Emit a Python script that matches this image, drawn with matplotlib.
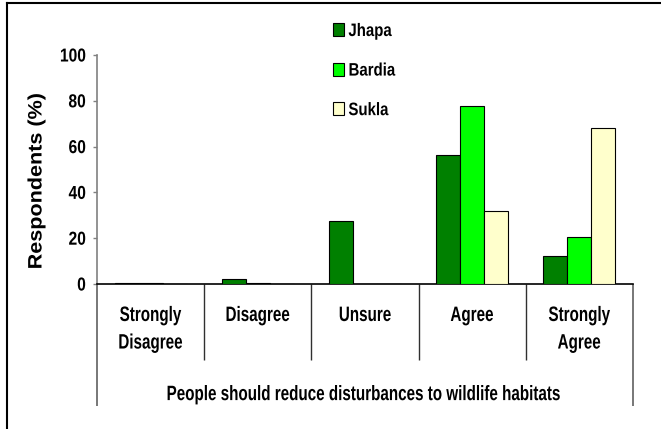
import numpy as np
import matplotlib.pyplot as plt
from matplotlib.lines import Line2D
from matplotlib.patheffects import AbstractPathEffect
from matplotlib.transforms import Affine2D

# Data
categories = ["Strongly\nDisagree", "Disagree", "Unsure", "Agree", "Strongly\nAgree"]
jhapa = [0.4, 2.2, 27.6, 56.3, 12.2]
bardia = [0.4, 0.4, 0.0, 77.9, 20.4]
sukla = [0.0, 0.0, 0.0, 31.9, 68.0]
series_names = ["Jhapa", "Bardia", "Sukla"]
colors = ["#008000", "#00FF00", "#FFFFCC"]
yticks = [0, 20, 40, 60, 80, 100]
statement = "People should reduce disturbances to wildlife habitats"


class Squeeze(AbstractPathEffect):
    # squash text like the narrow font in the original
    def __init__(self, sx=1.0, sy=1.0, anchor="center"):
        super().__init__()
        self.sx, self.sy, self.anchor = sx, sy, anchor

    def draw_path(self, renderer, gc, tpath, affine, rgbFace=None):
        ext = tpath.get_extents(affine)
        if self.anchor == "left":
            x0 = ext.x0
        elif self.anchor == "right":
            x0 = ext.x1
        else:
            x0 = (ext.x0 + ext.x1) / 2
        y0 = (ext.y0 + ext.y1) / 2
        t = affine + Affine2D().translate(-x0, -y0).scale(self.sx, self.sy).translate(x0, y0)
        renderer.draw_path(gc, tpath, t, rgbFace)


font = ["Liberation Sans", "DejaVu Sans"]

fig = plt.figure(figsize=(6.61, 4.29), dpi=100)
ax = fig.add_axes([97 / 661, 1 - 284 / 429, 536 / 661, 229 / 429])

x = np.arange(len(categories))
w = 0.224
for i, (vals, name) in enumerate(zip([jhapa, bardia, sukla], series_names)):
    ax.bar(x + (i - 1) * w, vals, width=w, color=colors[i], edgecolor="black",
           linewidth=0.8, label=name, zorder=3)

ax.set_xlim(-0.5, len(categories) - 0.5)
ax.set_ylim(0, 100)
ax.set_yticks(yticks)
ax.set_yticklabels([str(t) for t in yticks], family=font, fontweight="bold",
                   fontsize=13.5)
for lbl in ax.get_yticklabels():
    lbl.set_path_effects([Squeeze(0.83, 1.0, "right")])
ax.tick_params(axis="y", length=3, width=1, pad=5, color="#808080")
ax.set_xticks([])

for s in ["top", "right"]:
    ax.spines[s].set_visible(False)
ax.spines["left"].set_color("#808080")
ax.spines["left"].set_linewidth(1.2)
ax.spines["bottom"].set_color("black")
ax.spines["bottom"].set_linewidth(1.2)

# table-like category area below the axis
trans = ax.get_xaxis_transform()
ax.vlines(x[:-1] + 0.5, -0.332, 0, transform=trans, colors="#303030",
          linewidth=1, clip_on=False)
ax.vlines([-0.5, len(categories) - 0.5], -0.533, 0, transform=trans,
          colors="#606060", linewidth=1.2, clip_on=False)
for xi, cat in zip(x, categories):
    ax.text(xi, -0.096, cat, transform=trans, ha="center", va="top",
            family=font, fontweight="bold", fontsize=15, linespacing=1.57,
            path_effects=[Squeeze(0.73)])
ax.text(0.5, -0.507, statement, transform=ax.transAxes, ha="center",
        va="baseline", family=font, fontweight="bold", fontsize=15,
        path_effects=[Squeeze(0.73)])

fig.text(37 / 661, 1 - 181 / 429, "Respondents (%)", rotation=90, ha="center",
         va="center", family=font, fontweight="bold", fontsize=14,
         path_effects=[Squeeze(1.0, 1.11)])

leg = ax.legend(loc="upper left", bbox_to_anchor=(333 / 661, 1 - 23 / 429),
                bbox_transform=fig.transFigure, frameon=False,
                prop={"family": font, "weight": "bold", "size": 13},
                handlelength=0.6, handleheight=0.75, handletextpad=0.25,
                labelspacing=1.25, borderpad=0, borderaxespad=0)
for t in leg.get_texts():
    t.set_path_effects([Squeeze(0.83, 1.0, "left")])

# outer frame (left and top edges visible)
fig.add_artist(Line2D([7 / 661, 7 / 661], [0, 1 - 3 / 429],
                      transform=fig.transFigure, color="black", linewidth=1.5))
fig.add_artist(Line2D([7 / 661, 1], [1 - 3 / 429, 1 - 3 / 429],
                      transform=fig.transFigure, color="black", linewidth=1.5))

fig.savefig("out.png", dpi=100)
